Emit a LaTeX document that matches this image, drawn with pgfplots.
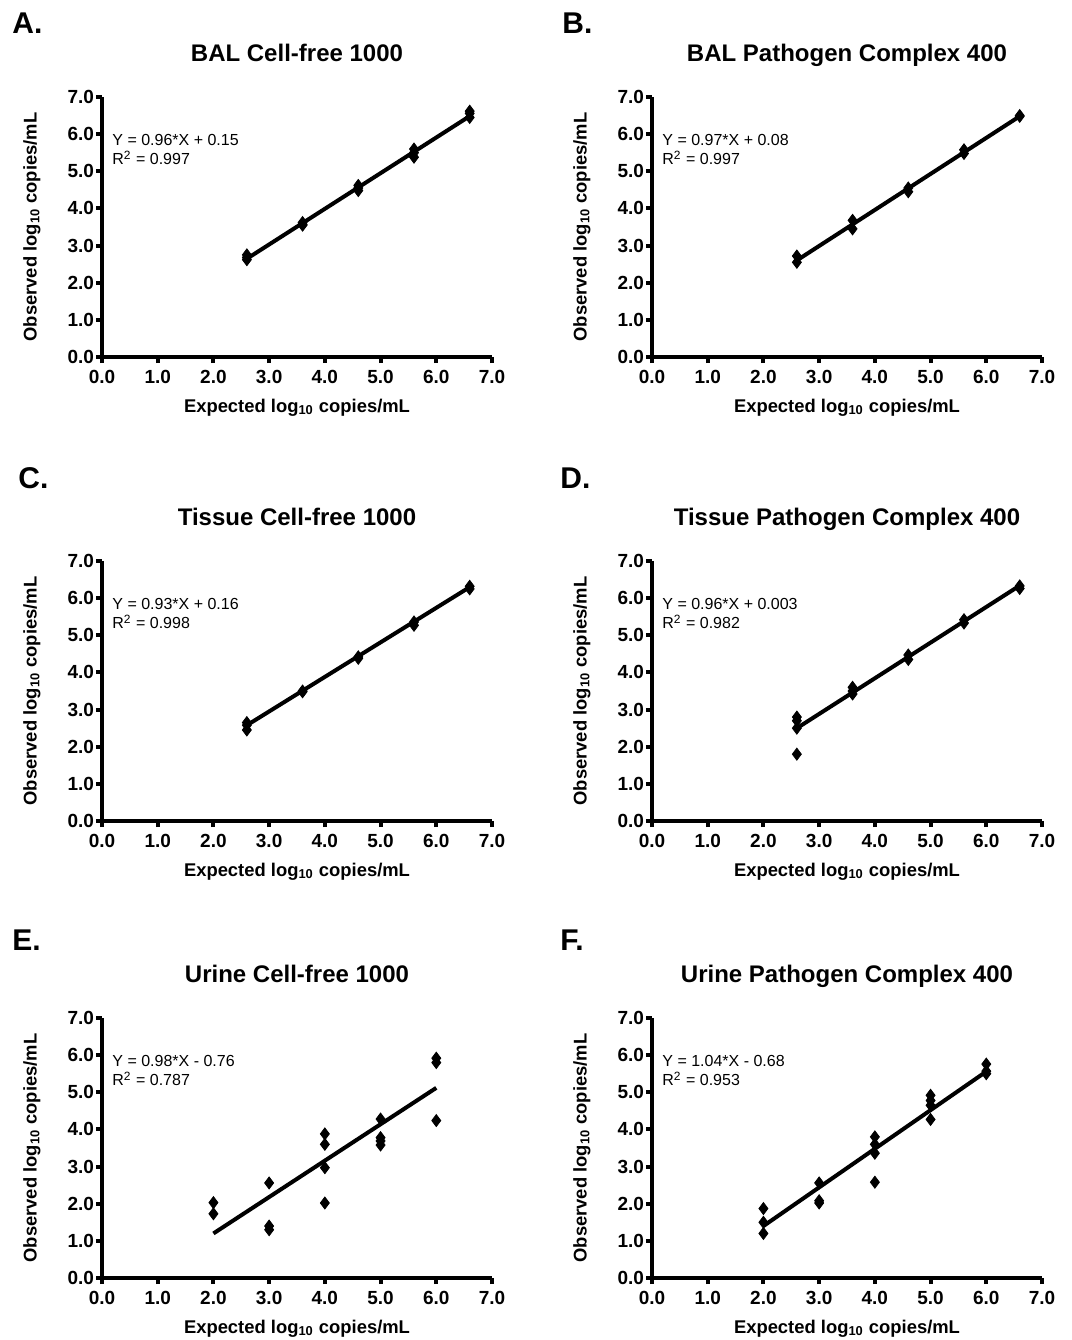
\documentclass[border=0pt]{standalone}
\usepackage{fontspec}
\setmainfont{Liberation Sans}
\usepackage{pgfplots}
\pgfplotsset{compat=1.18}

\pgfplotsset{
  panel/.style={
    scale only axis, width=195pt, height=130pt,
    xmin=0, xmax=7, ymin=0, ymax=7,
    xtick={0,...,7}, ytick={0,...,7},
    axis x line*=bottom, axis y line*=left,
    axis line style={-, line width=2pt},
    tick align=outside, major tick length=3pt,
    every tick/.style={black, line width=2pt},
    /pgf/number format/fixed, /pgf/number format/fixed zerofill,
    /pgf/number format/precision=1, /pgf/number format/assume math mode=true,
    ticklabel style={font=\fontsize{9.5}{11}\selectfont\bfseries},
    yticklabel style={xshift=2.5pt},
    xlabel={Expected log\textsubscript{10} copies/mL},
    ylabel={Observed log\textsubscript{10} copies/mL},
    every axis x label/.style={at={(axis description cs:0.5,-0.212)}, anchor=base,
      font=\fontsize{9.2}{11}\selectfont\bfseries},
    every axis y label/.style={at={(axis description cs:-0.18,0.5)}, rotate=90, anchor=center,
      font=\fontsize{9.2}{11}\selectfont\bfseries},
    every axis title/.style={font=\fontsize{12}{14}\selectfont\bfseries,
      at={(axis description cs:0.5,1.135)}, anchor=base},
    clip=false,
  },
  pts/.style={only marks, mark=diamond*, mark size=3pt, black},
  fit/.style={no marks, black, line width=2pt},
}
\newcommand{\eqn}[2]{\node[anchor=north west, inner sep=0pt, align=left,
  font=\fontsize{8}{9.5}\selectfont] at (axis cs:0.18,6.0) {#1\\R\textsuperscript{2} = #2};}

\begin{document}
\begin{tikzpicture}
\useasboundingbox (0,0) rectangle (536pt,-670pt);
\tikzset{letter/.style={font=\fontsize{15}{17}\selectfont\bfseries, anchor=west, inner sep=0pt}}
\node[letter] at (6pt,-11.5pt) {A.};
\node[letter] at (281pt,-11.5pt) {B.};
\node[letter] at (9pt,-239pt) {C.};
\node[letter] at (280pt,-239pt) {D.};
\node[letter] at (6pt,-470pt) {E.};
\node[letter] at (280pt,-470pt) {F.};

% A
\begin{axis}[panel, at={(51pt,-178.5pt)}, anchor=south west, title={BAL Cell-free 1000}]
\addplot[fit] coordinates {(2.6,2.646) (6.6,6.486)};
\addplot[pts] coordinates {
  (2.6,2.75) (2.6,2.68) (2.6,2.62) (3.6,3.62) (3.6,3.57) (3.6,3.55)
  (4.6,4.62) (4.6,4.55) (4.6,4.48) (5.6,5.60) (5.6,5.50) (5.6,5.38)
  (6.6,6.62) (6.6,6.56) (6.6,6.45)};
\eqn{Y = 0.96*X + 0.15}{0.997}
\end{axis}

% B
\begin{axis}[panel, at={(326pt,-178.5pt)}, anchor=south west, title={BAL Pathogen Complex 400}]
\addplot[fit] coordinates {(2.6,2.602) (6.6,6.482)};
\addplot[pts] coordinates {
  (2.6,2.72) (2.6,2.55) (3.6,3.68) (3.6,3.45) (4.6,4.55) (4.6,4.45)
  (5.6,5.58) (5.6,5.48) (6.6,6.50) (6.6,6.48)};
\eqn{Y = 0.97*X + 0.08}{0.997}
\end{axis}

% C
\begin{axis}[panel, at={(51pt,-410.5pt)}, anchor=south west, title={Tissue Cell-free 1000}]
\addplot[fit] coordinates {(2.6,2.578) (6.6,6.298)};
\addplot[pts] coordinates {
  (2.6,2.65) (2.6,2.58) (2.6,2.45) (3.6,3.50) (3.6,3.48) (4.6,4.42) (4.6,4.38)
  (5.6,5.36) (5.6,5.27) (6.6,6.32) (6.6,6.25)};
\eqn{Y = 0.93*X + 0.16}{0.998}
\end{axis}

% D
\begin{axis}[panel, at={(326pt,-410.5pt)}, anchor=south west, title={Tissue Pathogen Complex 400}]
\addplot[fit] coordinates {(2.6,2.499) (6.6,6.339)};
\addplot[pts] coordinates {
  (2.6,2.80) (2.6,2.70) (2.6,2.50) (2.6,1.80) (3.6,3.60) (3.6,3.50) (3.6,3.42)
  (4.6,4.47) (4.6,4.35) (5.6,5.42) (5.6,5.33) (6.6,6.33) (6.6,6.26)};
\eqn{Y = 0.96*X + 0.003}{0.982}
\end{axis}

% E
\begin{axis}[panel, at={(51pt,-639pt)}, anchor=south west, title={Urine Cell-free 1000}]
\addplot[fit] coordinates {(2,1.20) (6,5.12)};
\addplot[pts] coordinates {
  (2,2.03) (2,1.73) (3,2.56) (3,1.40) (3,1.30) (4,3.88) (4,3.60) (4,2.97) (4,2.02)
  (5,4.28) (5,3.78) (5,3.69) (5,3.58) (6,5.92) (6,5.80) (6,4.24)};
\eqn{Y = 0.98*X - 0.76}{0.787}
\end{axis}

% F
\begin{axis}[panel, at={(326pt,-639pt)}, anchor=south west, title={Urine Pathogen Complex 400}]
\addplot[fit] coordinates {(2,1.40) (6,5.56)};
\addplot[pts] coordinates {
  (2,1.87) (2,1.50) (2,1.20) (3,2.56) (3,2.08) (3,2.02) (4,3.80) (4,3.60) (4,3.36) (4,2.58)
  (5,4.92) (5,4.78) (5,4.65) (5,4.27) (6,5.76) (6,5.57) (6,5.50)};
\eqn{Y = 1.04*X - 0.68}{0.953}
\end{axis}
\end{tikzpicture}
\end{document}
